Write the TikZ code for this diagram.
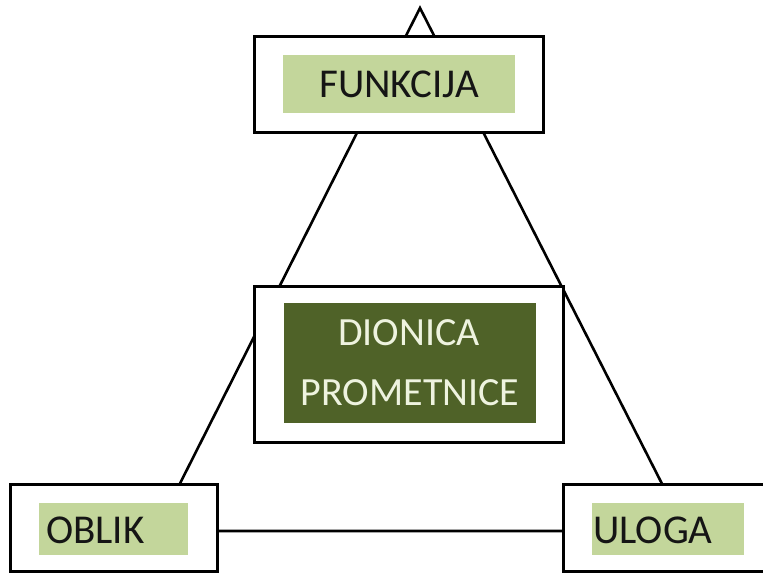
\documentclass[tikz,border=0pt]{standalone}
\usepackage{fontspec}
\setmainfont{Carlito}
\definecolor{lightolive}{HTML}{C3D69B}
\definecolor{darkolive}{HTML}{4F6228}
\definecolor{cream}{HTML}{EEF3DF}
\definecolor{ink}{HTML}{151515}
\begin{document}
\begin{tikzpicture}[x=1pt,y=-1pt,
  outerbox/.style={draw=black,line width=3pt,fill=white,rectangle,inner sep=0pt},
  lightbox/.style={fill=lightolive,rectangle,inner sep=0pt},
  darkbox/.style={fill=darkolive,rectangle,inner sep=0pt},
  label/.style={inner sep=0pt,font=\fontsize{41}{49}\selectfont,text=ink},
  biglabel/.style={inner sep=0pt,font=\fontsize{40}{48}\selectfont,text=cream},
  link/.style={draw=black,line width=2.6pt,line join=miter}]
\useasboundingbox (0,0) rectangle (763,574);
\clip (0,0) rectangle (763,574);
\fill[white] (0,0) rectangle (763,574);
% triangle behind the boxes
\coordinate (apex) at (420,8);
\coordinate (bl) at (156,531);
\coordinate (br) at (686,531);
\draw[link] (apex) -- (bl) -- (br) -- cycle;
% top box
\node[outerbox, minimum width=289pt, minimum height=96pt] (funk) at (398.5,84) {};
\node[lightbox, minimum width=232pt, minimum height=58pt] (funkin) at (399,84) {};
\node[label, anchor=base] (funktext) at (399,97) {FUNKCIJA};
% centre box
\node[outerbox, minimum width=309pt, minimum height=156pt] (dion) at (408.5,364) {};
\node[darkbox, minimum width=252pt, minimum height=120pt] (dionin) at (410,363) {};
\node[biglabel, anchor=base] (dt1) at (409,345) {DIONICA};
\node[biglabel, anchor=base] (dt2) at (410,405) {PROMETNICE};
% bottom left
\node[outerbox, minimum width=207pt, minimum height=87pt] (oblik) at (113.5,527.5) {};
\node[lightbox, minimum width=149pt, minimum height=52pt] (oblikin) at (113.5,529) {};
\node[label, anchor=base west] (obliktext) at (46,543) {OBLIK};
% bottom right
\node[outerbox, minimum width=203pt, minimum height=87pt] (uloga) at (664.5,527.5) {};
\node[lightbox, minimum width=152pt, minimum height=52pt] (ulogain) at (668,529) {};
\node[label, anchor=base west] (ulogatext) at (593,543) {ULOGA};
\end{tikzpicture}
\end{document}
